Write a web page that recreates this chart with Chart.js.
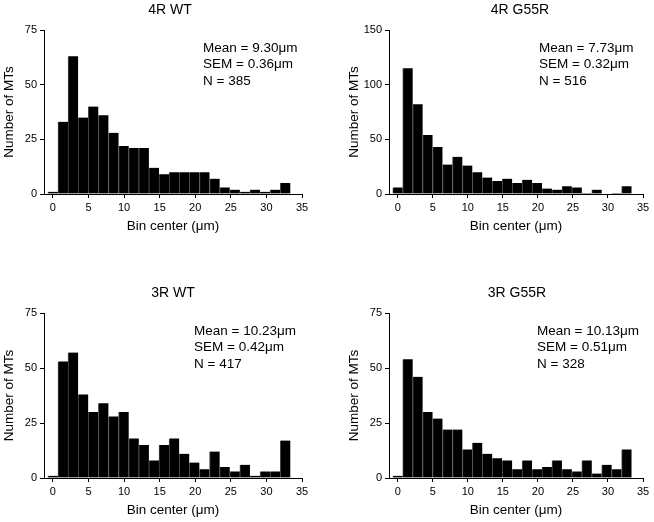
<!DOCTYPE html>
<html>
<head>
    <title>MT length histograms</title>
    <script src="https://cdn.jsdelivr.net/npm/chart.js"></script>
    <style>
        body {
            margin: 0;
            padding: 0;
            background: white;
        }

        .panel {
            position: absolute;
            width: 327px;
            height: 261px;
        }
    </style>
</head>
<body>
    <div class="panel" style="left:0;top:0"><canvas id="wt4r" width="327" height="261"></canvas></div>
    <div class="panel" style="left:327px;top:0"><canvas id="g55r4r" width="327" height="261"></canvas></div>
    <div class="panel" style="left:0;top:261px"><canvas id="wt3r" width="327" height="261"></canvas></div>
    <div class="panel" style="left:327px;top:261px"><canvas id="g55r3r" width="327" height="261"></canvas></div>

    <script>
        // bin centers (um) and counts
        const binCenters = [0, 1.42, 2.84, 4.26, 5.68, 7.1, 8.52, 9.94, 11.36, 12.78, 14.2, 15.62,
            17.04, 18.46, 19.88, 21.3, 22.72, 24.14, 25.56, 26.98, 28.4, 29.82, 31.24, 32.66];
        const xTicks = [0, 5, 10, 15, 20, 25, 30, 35];
        const yTicks75 = [0, 25, 50, 75];
        const yTicks150 = [0, 50, 100, 150];

        const counts4RWT = [1, 33, 63, 35, 40, 36, 28, 22, 21, 21, 12, 9, 10, 10, 10, 10, 7, 3, 2, 1, 2, 1, 2, 5];
        const counts4RG55R = [6, 115, 82, 54, 43, 27, 34, 26, 20, 15, 12, 14, 10, 13, 10, 5, 4, 7, 6, 1, 4, 0, 1, 7];
        const counts3RWT = [1, 53, 57, 38, 30, 34, 28, 30, 18, 15, 8, 15, 18, 11, 7, 4, 12, 5, 3, 6, 1, 3, 3, 17];
        const counts3RG55R = [1, 54, 46, 30, 27, 22, 22, 13, 16, 11, 9, 8, 4, 8, 4, 5, 8, 4, 3, 8, 2, 6, 4, 13];

        const stats4RWT = ['Mean = 9.30μm', 'SEM = 0.36μm', 'N = 385'];
        const stats4RG55R = ['Mean = 7.73μm', 'SEM = 0.32μm', 'N = 516'];
        const stats3RWT = ['Mean = 10.23μm', 'SEM = 0.42μm', 'N = 417'];
        const stats3RG55R = ['Mean = 10.13μm', 'SEM = 0.51μm', 'N = 328'];

        const FONT = '"Liberation Sans", Arial, sans-serif';
        const Y_AXIS_W = 40;
        const X_AXIS_H = 22;

        // panel title, axis titles and the stats block
        const panelText = {
            id: 'panelText',
            afterDraw(chart, args, opts) {
                const ctx = chart.ctx;
                const a = chart.chartArea;
                ctx.save();
                ctx.fillStyle = '#000';
                ctx.textBaseline = 'middle';
                ctx.textAlign = 'center';
                ctx.font = '14px ' + FONT;
                ctx.fillText(opts.title, opts.titleX, a.top - 20);
                ctx.font = '13.5px ' + FONT;
                ctx.fillText('Bin center (μm)', (a.left + a.right) / 2, a.bottom + 32);
                ctx.save();
                ctx.translate(a.left - 35, (a.top + a.bottom) / 2);
                ctx.rotate(-Math.PI / 2);
                ctx.fillText('Number of MTs', 0, 0);
                ctx.restore();
                ctx.textAlign = 'left';
                opts.stats.forEach((s, i) => ctx.fillText(s, opts.statsX, a.top + 18 + i * 16.5));
                ctx.restore();
            }
        };

        function makeHist(id, counts, yMax, yTicks, pad, text) {
            new Chart(document.getElementById(id), {
                type: 'bar',
                data: {
                    datasets: [{
                        data: binCenters.map((x, i) => ({ x: x, y: counts[i] })),
                        backgroundColor: '#000',
                        borderColor: '#4a4a4a',
                        borderWidth: { left: 1, right: 0, top: 0, bottom: 0 },
                        barPercentage: 1,
                        categoryPercentage: 1
                    }]
                },
                options: {
                    responsive: false,
                    animation: false,
                    layout: { padding: pad },
                    plugins: {
                        legend: { display: false },
                        tooltip: { enabled: false },
                        panelText: text
                    },
                    scales: {
                        x: {
                            type: 'linear',
                            min: -1.25,
                            max: 35,
                            offset: false,
                            afterFit(s) { s.height = X_AXIS_H; },
                            afterBuildTicks(s) { s.ticks = xTicks.map(v => ({ value: v })); },
                            grid: { offset: false, drawOnChartArea: false, tickLength: 4, color: '#000' },
                            border: { color: '#000', width: 1 },
                            ticks: { color: '#000', font: { family: FONT, size: 11 }, padding: 3, maxRotation: 0, autoSkip: false }
                        },
                        y: {
                            min: 0,
                            max: yMax,
                            afterFit(s) { s.width = Y_AXIS_W; },
                            afterBuildTicks(s) { s.ticks = yTicks.map(v => ({ value: v })); },
                            grid: { drawOnChartArea: false, tickLength: 4, color: '#000' },
                            border: { color: '#000', width: 1 },
                            ticks: { color: '#000', font: { family: FONT, size: 11 }, padding: 3 }
                        }
                    }
                },
                plugins: [panelText]
            });
        }

        // padding = plot box edge minus the axis band
        makeHist('wt4r', counts4RWT, 75, yTicks75, { left: 44 - Y_AXIS_W, top: 30, right: 25, bottom: 67 - X_AXIS_H },
            { title: '4R WT', titleX: 170, statsX: 203, stats: stats4RWT });
        makeHist('g55r4r', counts4RG55R, 150, yTicks150, { left: 62 - Y_AXIS_W, top: 30, right: 11, bottom: 67 - X_AXIS_H },
            { title: '4R G55R', titleX: 193, statsX: 212, stats: stats4RG55R });
        makeHist('wt3r', counts3RWT, 75, yTicks75, { left: 44 - Y_AXIS_W, top: 52, right: 25, bottom: 44 - X_AXIS_H },
            { title: '3R WT', titleX: 173, statsX: 194, stats: stats3RWT });
        makeHist('g55r3r', counts3RG55R, 75, yTicks75, { left: 62 - Y_AXIS_W, top: 52, right: 11, bottom: 44 - X_AXIS_H },
            { title: '3R G55R', titleX: 190, statsX: 210, stats: stats3RG55R });
    </script>
</body>
</html>
